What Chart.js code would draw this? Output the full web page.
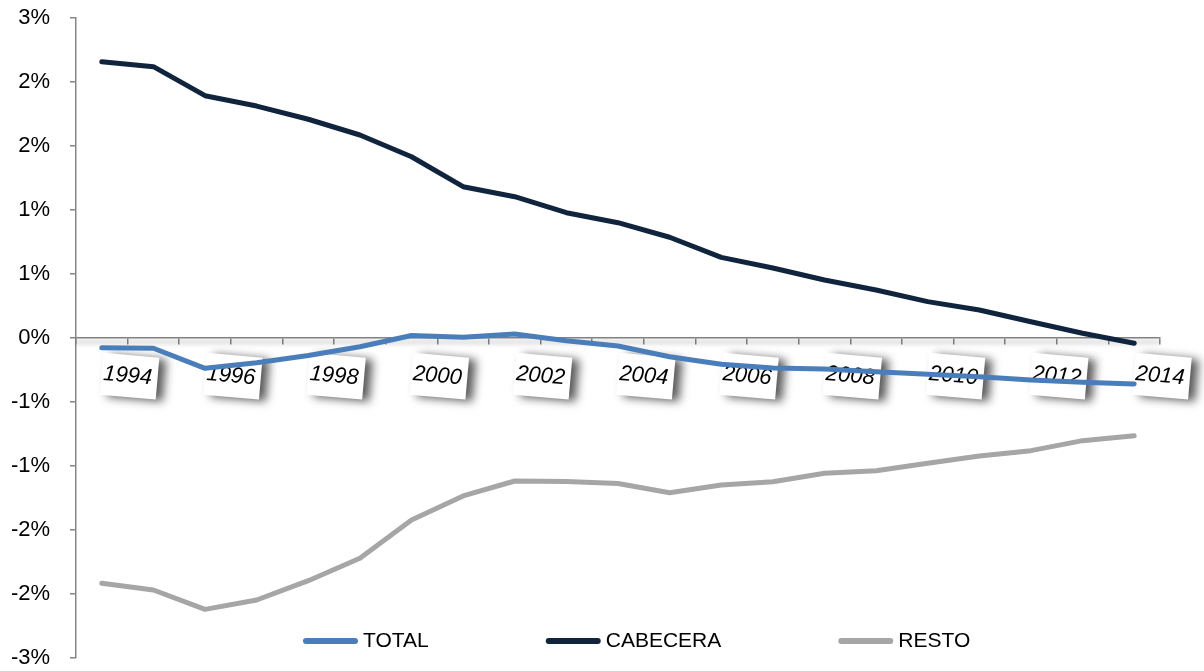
<!DOCTYPE html>
<html>
<head>
<meta charset="utf-8">
<script src="https://cdn.jsdelivr.net/npm/chart.js@4/dist/chart.umd.min.js"></script>
<style>
html,body{margin:0;padding:0;background:#fff;}
#wrap{width:1204px;height:671px;position:relative;}
</style>
</head>
<body>
<div id="wrap"><canvas id="c"></canvas></div>
<script>
const years = ['1994','1995','1996','1997','1998','1999','2000','2001','2002','2003','2004','2005','2006','2007','2008','2009','2010','2011','2012','2013','2014'];
const xTickLabels = ['1994','1996','1998','2000','2002','2004','2006','2008','2010','2012','2014'];
const seriesNames = ['TOTAL','CABECERA','RESTO'];
const total = [-0.076,-0.080,-0.237,-0.193,-0.137,-0.068,0.020,0.005,0.031,-0.021,-0.063,-0.146,-0.205,-0.234,-0.242,-0.263,-0.284,-0.302,-0.328,-0.346,-0.359];
const cabecera = [2.159,2.120,1.893,1.812,1.709,1.586,1.416,1.182,1.104,0.979,0.901,0.787,0.630,0.547,0.453,0.375,0.284,0.219,0.127,0.037,-0.041];
const resto = [-1.916,-1.969,-2.120,-2.047,-1.896,-1.721,-1.422,-1.234,-1.117,-1.121,-1.137,-1.209,-1.148,-1.123,-1.057,-1.037,-0.979,-0.922,-0.880,-0.802,-0.763];
const yTicks = [-2.5,-2,-1.5,-1,-0.5,0,0.5,1,1.5,2,2.5];

const colors = ['#4a7ebb','#10243e','#a6a6a6'];
const FONT = 'Liberation Sans';

function fmtPct(v){
  const r = Math.sign(v)*Math.round(Math.abs(v));
  return (r === 0 ? 0 : r) + '%';
}

const xLabelPlugin = {
  id: 'xLabelBoxes',
  beforeDatasetsDraw(chart){
    const ctx = chart.ctx, xs = chart.scales.x, ys = chart.scales.y;
    const y0 = ys.getPixelForValue(0);
    const half = (xs.getPixelForValue(1) - xs.getPixelForValue(0))/2;
    ctx.save();
    ctx.strokeStyle = 'rgba(0,0,0,0.12)';
    ctx.lineWidth = 5;
    ctx.filter = 'blur(2px)';
    ctx.beginPath();
    ctx.moveTo(chart.chartArea.left, y0+4);
    ctx.lineTo(chart.chartArea.right, y0+4);
    ctx.stroke();
    ctx.restore();
    xTickLabels.forEach(lab => {
      const i = years.indexOf(lab);
      const cx = xs.getPixelForValue(i) + half;
      const cy = y0 + 38;
      ctx.save();
      ctx.translate(cx, cy);
      ctx.rotate(5*Math.PI/180);
      ctx.shadowColor = 'rgba(0,0,0,0.65)';
      ctx.shadowBlur = 10;
      ctx.shadowOffsetX = 7;
      ctx.shadowOffsetY = 2;
      ctx.fillStyle = '#ffffff';
      ctx.fillRect(-26, -21, 56, 42);
      ctx.shadowColor = 'transparent';
      ctx.fillStyle = '#000';
      ctx.font = 'italic 22px "' + FONT + '"';
      ctx.textAlign = 'center';
      ctx.textBaseline = 'middle';
      ctx.fillText(lab, 0, 0);
      ctx.restore();
    });
  }
};

const legendPlugin = {
  id: 'customLegend',
  afterDraw(chart){
    const ctx = chart.ctx;
    let x = 303;
    const y = 641;
    ctx.save();
    ctx.font = '21px "' + FONT + '"';
    ctx.textBaseline = 'middle';
    ctx.textAlign = 'left';
    chart.data.datasets.forEach(ds => {
      ctx.strokeStyle = ds.borderColor;
      ctx.lineWidth = 6;
      ctx.lineCap = 'round';
      ctx.beginPath();
      ctx.moveTo(x+3, y);
      ctx.lineTo(x+52, y);
      ctx.stroke();
      x += 60;
      ctx.fillStyle = '#000';
      ctx.fillText(ds.label, x, y);
      x += ctx.measureText(ds.label).width + 117;
    });
    ctx.restore();
  }
};

const seriesData = [total, cabecera, resto];

new Chart(document.getElementById('c'), {
  type: 'line',
  data: {
    labels: years,
    datasets: seriesNames.map((n,k) => ({
      label: n,
      data: seriesData[k],
      borderColor: colors[k],
      backgroundColor: colors[k],
      borderWidth: 5,
      pointRadius: 0,
      pointHoverRadius: 0,
      tension: 0,
      borderCapStyle: 'round',
      borderJoinStyle: 'round',
      fill: false
    }))
  },
  options: {
    responsive: true,
    maintainAspectRatio: false,
    animation: false,
    layout: { padding: { top: 18, bottom: 13, left: 0, right: 44 } },
    plugins: {
      legend: { display: false },
      tooltip: { enabled: false }
    },
    scales: {
      x: {
        type: 'category',
        position: { y: 0 },
        offset: true,
        grid: { display: true, drawOnChartArea: false, drawTicks: true, tickLength: 6, offset: true, color: '#868686', lineWidth: 1.5 },
        border: { display: true, color: '#868686', width: 1.5 },
        ticks: { display: false, autoSkip: false }
      },
      y: {
        min: -2.5,
        max: 2.5,
        afterBuildTicks(scale){ scale.ticks = yTicks.map(v => ({ value: v })); },
        afterFit(scale){ scale.width = 76; scale.paddingTop = 0; scale.paddingBottom = 0; },
        grid: { drawOnChartArea: false, drawTicks: true, tickLength: 6, color: '#868686', lineWidth: 1.5 },
        border: { display: true, color: '#868686', width: 1.5 },
        ticks: {
          callback: v => fmtPct(v),
          font: { family: FONT, size: 22 },
          color: '#000',
          padding: 20
        }
      }
    }
  },
  plugins: [xLabelPlugin, legendPlugin]
});
</script>
</body>
</html>
